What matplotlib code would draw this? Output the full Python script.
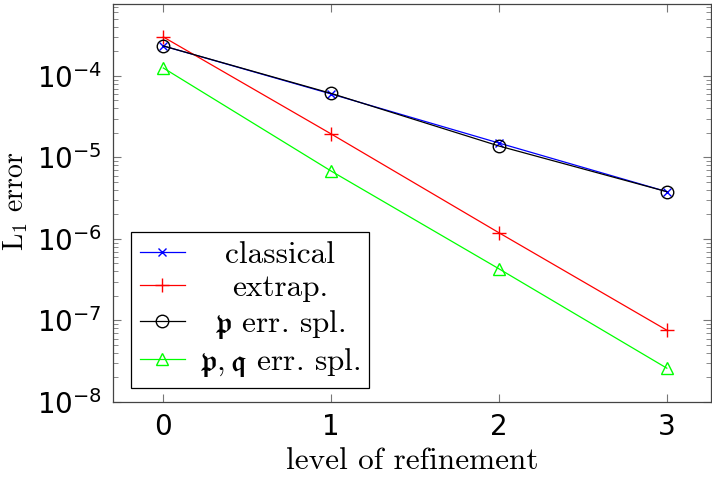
import numpy as np
import matplotlib
matplotlib.use("Agg")
import matplotlib.pyplot as plt
from matplotlib.font_manager import FontProperties
from matplotlib.ticker import LogLocator, NullFormatter

# data
levels = [0, 1, 2, 3]
err_classical = [2.33e-4, 6.0e-5, 1.5e-5, 3.8e-6]
err_extrap = [3.0e-4, 1.94e-5, 1.19e-6, 7.6e-8]
err_p = [2.33e-4, 6.1e-5, 1.38e-5, 3.8e-6]
err_pq = [1.25e-4, 6.8e-6, 4.3e-7, 2.6e-8]

labels = ["classical", "extrap.", r"$\mathfrak{p}$ err. spl.",
          r"$\mathfrak{p}, \mathfrak{q}$ err. spl."]

fig = plt.figure(figsize=(7.12, 4.8), dpi=100)
ax = fig.add_axes([0.1587, 0.1625, 0.8403, 0.829])

ax.plot(levels, err_classical, color="#0000ff", lw=0.9, marker="x", ms=6, mew=1.0)
ax.plot(levels, err_extrap, color="#ff0000", lw=0.9, marker="+", ms=10, mew=1.0)
ax.plot(levels, err_p, color="black", lw=0.9, marker="o", ms=9, mew=1.0, mfc="none")
ax.plot(levels, err_pq, color="#00ff00", lw=0.9, marker="^", ms=8, mew=1.0, mfc="none")

ax.set_yscale("log")
ax.set_ylim(1e-8, 7.6e-4)
ax.set_xlim(-0.3, 3.265)
ax.set_xticks(levels)
ax.yaxis.set_major_locator(LogLocator(base=10, numticks=10))
ax.yaxis.set_minor_locator(LogLocator(base=10, subs=np.arange(2, 10), numticks=20))
ax.yaxis.set_minor_formatter(NullFormatter())

ax.tick_params(which="both", direction="in", top=True, right=True,
               color="#777777", labelsize=20, pad=8)
ax.tick_params(which="major", length=6, width=0.8)
ax.tick_params(which="minor", length=3.5, width=0.6)
for s in ax.spines.values():
    s.set_color("#444444")
    s.set_linewidth(0.9)

ax.set_xlabel("level of refinement", labelpad=4,
              fontproperties=FontProperties(family="cmr10", size=22.5, math_fontfamily="cm"))
ax.set_ylabel(r"$\mathrm{L}_1$ error",
              fontproperties=FontProperties(family="cmr10", size=20, math_fontfamily="cm"))
ax.yaxis.set_label_coords(-0.138, 0.505)

leg = ax.legend(labels, loc="lower left", bbox_to_anchor=(0.03, 0.035),
                prop=FontProperties(family="cmr10", size=22.5, math_fontfamily="cm"),
                fancybox=False, framealpha=1, edgecolor="black",
                handlelength=1.45, handletextpad=0.45, labelspacing=0.18,
                borderpad=0.28, borderaxespad=0)
leg.get_frame().set_linewidth(0.9)

# centre the legend texts like pgfplots does
fig.canvas.draw()
r = fig.canvas.get_renderer()
widths = [t.get_window_extent(r).width for t in leg.get_texts()]
wmax = max(widths)
for t, w in zip(leg.get_texts(), widths):
    t.set_x((wmax - w) / 2)

fig.savefig("out.png", dpi=100)
